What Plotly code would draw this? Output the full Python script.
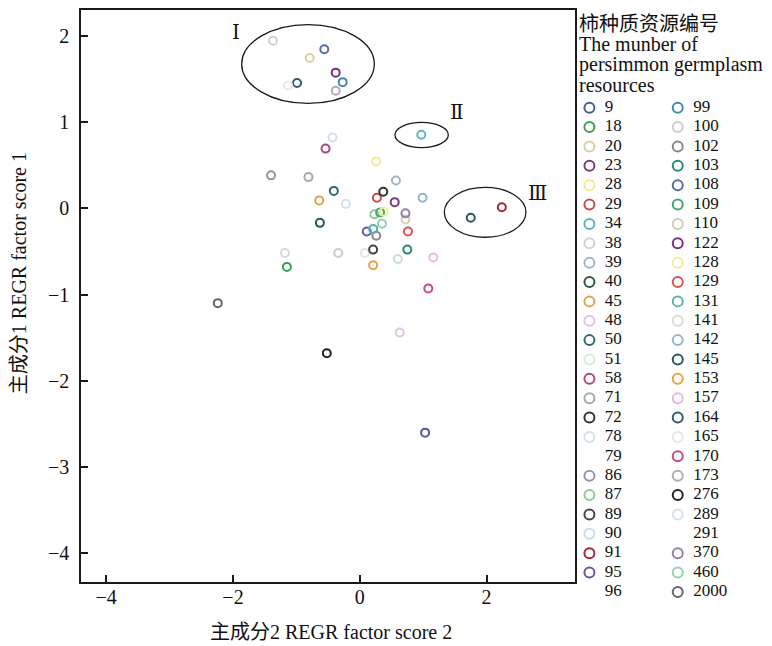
import plotly.graph_objects as go

# ---------------- data ----------------
germplasm_ids = ["9", "18", "20", "23", "28", "29", "34", "38", "39", "40", "45", "48", "50",
                 "51", "58", "71", "72", "78", "79", "86", "87", "89", "90", "91", "95", "96",
                 "99", "100", "102", "103", "108", "109", "110", "122", "128", "129", "131", "141",
                 "142", "145", "153", "157", "164", "165", "170", "173", "276", "289", "291",
                 "370", "460", "2000"]
factor_score2 = [1.03, -1.15, -0.79, 0.55, 0.26, 0.27, 0.97, -1.37, 0.57, -0.63, -0.64, 0.63, -0.41,
                 0.08, -0.54, -0.81, 0.37, -0.43, 0.93, -1.40, 0.23, 0.21, 0.60, 2.24, 0.11, 1.01,
                 -0.27, -0.34, 0.26, 0.75, -0.56, 0.32, 0.72, -0.38, 0.38, 0.76, 0.21, -1.18,
                 0.99, 1.75, 0.21, 1.16, -0.99, -1.13, 1.08, -0.38, -0.52, -0.22, 0.56,
                 0.72, 0.35, -2.24]
factor_score1 = [-2.60, -0.68, 1.74, 0.07, 0.54, 0.12, 0.85, 1.94, 0.32, -0.17, 0.09, -1.44, 0.20,
                 -0.52, 0.69, 0.36, 0.19, 0.82, -0.35, 0.38, -0.07, -0.48, -0.59, 0.01, -0.27, -0.58,
                 1.46, -0.52, -0.32, -0.48, 1.84, -0.05, -0.13, 1.57, -0.04, -0.27, -0.24, -0.52,
                 0.12, -0.11, -0.66, -0.57, 1.45, 1.42, -0.93, 1.36, -1.68, 0.05, -0.13,
                 -0.06, -0.18, -1.10]
id_colors = ["#4a5a9c", "#3aa050", "#d6d2a0", "#7a3a7e", "#eeee90", "#c84a4a", "#5ab8b8", "#d0d0d8",
             "#a4b4c4", "#2a5c3c", "#e0a448", "#e0c4e4", "#2c6a76", "#d8ecd8", "#b04878", "#a8a8a8",
             "#333333", "#d4e4dc", "#ffffff", "#9890b0", "#88cc98", "#444444", "#c8dce8", "#a02838",
             "#5a5ab4", "#ffffff",
             "#3c8caa", "#cccccc", "#888888", "#2a8c6c", "#5a6ea4", "#44a868", "#d4ccb4", "#74347e",
             "#f0f09c", "#e05252", "#58b4a8", "#dadada", "#94b4d4", "#2a5c4a", "#e8a444", "#e4bce0",
             "#2c5c74", "#e2eae2", "#c44888", "#b4acb8", "#222222", "#d4e4e4", "#ffffff",
             "#8c84ac", "#94d4a4", "#666666"]

legend_column1 = germplasm_ids[:26]
legend_column2 = germplasm_ids[26:]

x_ticks = [-4, -2, 0, 2]
y_ticks = [-4, -3, -2, -1, 0, 1, 2]

group_labels = ["Ⅰ", "Ⅱ", "Ⅲ"]
group_label_pos = [(-1.95, 2.04), (1.53, 1.11), (2.81, 0.17)]
group_ellipses = [(-1.863, 1.214, 0.229, 2.126), (0.555, 0.702, 1.396, 0.994), (1.333, -0.337, 2.621, 0.240)]

legend_title_lines = ["柿种质资源编号", "The munber of", "persimmon germplasm", "resources"]
x_title = "主成分2 REGR factor score 2"
y_title = "主成分1 REGR factor score 1"

# ---------------- layout helpers ----------------
WIN_W, WIN_H = 772, 646
BODY = 8                       # default page margin of the html body
W, H = WIN_W - BODY, WIN_H - BODY


def px_x(p):
    return (p - BODY) / W


def px_y(p):
    return 1 - (p - BODY) / H


plot_l, plot_r, plot_t, plot_b = 81.3, 575.0, 8.5, 582.0
x_px_per_unit, x_zero_px = 63.4, 359.8
y_px_per_unit, y_zero_px = 86.6, 206.8
SERIF = "Liberation Serif, 'Noto Sans CJK SC', serif"
INK = "#1a1a1a"

fig = go.Figure()

color_of = dict(zip(germplasm_ids, id_colors))
for gid, xv, yv, c in zip(germplasm_ids, factor_score2, factor_score1, id_colors):
    fig.add_trace(go.Scatter(
        x=[xv], y=[yv], mode="markers", name=gid, showlegend=False,
        marker=dict(symbol="circle-open", size=8, color=c, line=dict(width=2, color=c)),
        xaxis="x", yaxis="y", hoverinfo="name+x+y"))

# legend drawn on its own axis (columns / rows)
lx, ly, lc, lt, ltx = [], [], [], [], []
for col, ids in enumerate([legend_column1, legend_column2]):
    for row, gid in enumerate(ids):
        lx.append(col)
        ly.append(row)
        lc.append(color_of[gid])
        lt.append(gid)
        ltx.append(col + 0.175)
fig.add_trace(go.Scatter(
    x=lx, y=ly, mode="markers", showlegend=False, hoverinfo="skip",
    marker=dict(symbol="circle-open", size=10, color=lc, line=dict(width=2, color=lc)),
    xaxis="x2", yaxis="y2"))
fig.add_trace(go.Scatter(
    x=ltx, y=ly, mode="text", text=lt, textposition="middle right", showlegend=False,
    hoverinfo="skip", textfont=dict(family=SERIF, size=17, color="#111111"),
    xaxis="x2", yaxis="y2"))

row0_px, row_step = 106.0, 19.43
col0_px, col_step = 588.0, 89.0

axis_common = dict(showgrid=False, zeroline=False, showline=True, linewidth=2, linecolor=INK,
                   mirror=True, ticks="inside", ticklen=7, tickwidth=2, tickcolor=INK,
                   tickfont=dict(family=SERIF, size=20, color="#111111"))

fig.update_layout(
    width=W, height=H, margin=dict(l=0, r=0, t=0, b=0),
    paper_bgcolor="white", plot_bgcolor="white",
    xaxis=dict(domain=[px_x(plot_l), px_x(plot_r)],
               range=[(plot_l - x_zero_px) / x_px_per_unit, (plot_r - x_zero_px) / x_px_per_unit],
               tickvals=x_ticks, ticklabelstandoff=-4, anchor="y", **axis_common),
    yaxis=dict(domain=[px_y(plot_b), px_y(plot_t)],
               range=[(y_zero_px - plot_b) / y_px_per_unit, (y_zero_px - plot_t) / y_px_per_unit],
               tickvals=y_ticks, ticklabelstandoff=6, anchor="x", **axis_common),
    xaxis2=dict(domain=[px_x(plot_r) + 0.002, 1],
                range=[(plot_r - col0_px) / col_step, (WIN_W - col0_px) / col_step],
                visible=False, anchor="y2", fixedrange=True),
    yaxis2=dict(domain=[0, 1], range=[(WIN_H - row0_px) / row_step, (BODY - row0_px) / row_step],
                visible=False, anchor="x2", fixedrange=True),
    showlegend=False,
)

# group ellipses
for (x0, y0, x1, y1) in group_ellipses:
    fig.add_shape(type="circle", xref="x", yref="y", x0=x0, y0=y0, x1=x1, y1=y1,
                  line=dict(color=INK, width=1.3))

for lab, (xp, yp) in zip(group_labels, group_label_pos):
    fig.add_annotation(x=xp, y=yp, xref="x", yref="y", text=lab, showarrow=False,
                       font=dict(family="DejaVu Serif, Liberation Serif, serif", size=20, color="#111111"))

# legend title lines
title_centers = [22, 42, 62.5, 83]
title_sizes = [20, 20, 20, 20]
for line, yc, fs in zip(legend_title_lines, title_centers, title_sizes):
    fig.add_annotation(x=px_x(577), y=px_y(yc), xref="paper", yref="paper", text=line,
                       showarrow=False, xanchor="left", yanchor="middle",
                       font=dict(family=SERIF, size=fs, color="#111111"))

# axis titles
fig.add_annotation(x=px_x(331), y=px_y(632), xref="paper", yref="paper", text=x_title,
                   showarrow=False, xanchor="center", yanchor="middle",
                   font=dict(family=SERIF, size=20, color="#111111"))
fig.add_annotation(x=px_x(19), y=px_y(272), xref="paper", yref="paper", text=y_title,
                   showarrow=False, xanchor="center", yanchor="middle", textangle=-90,
                   font=dict(family=SERIF, size=20, color="#111111"))

fig.write_html("out.html")
